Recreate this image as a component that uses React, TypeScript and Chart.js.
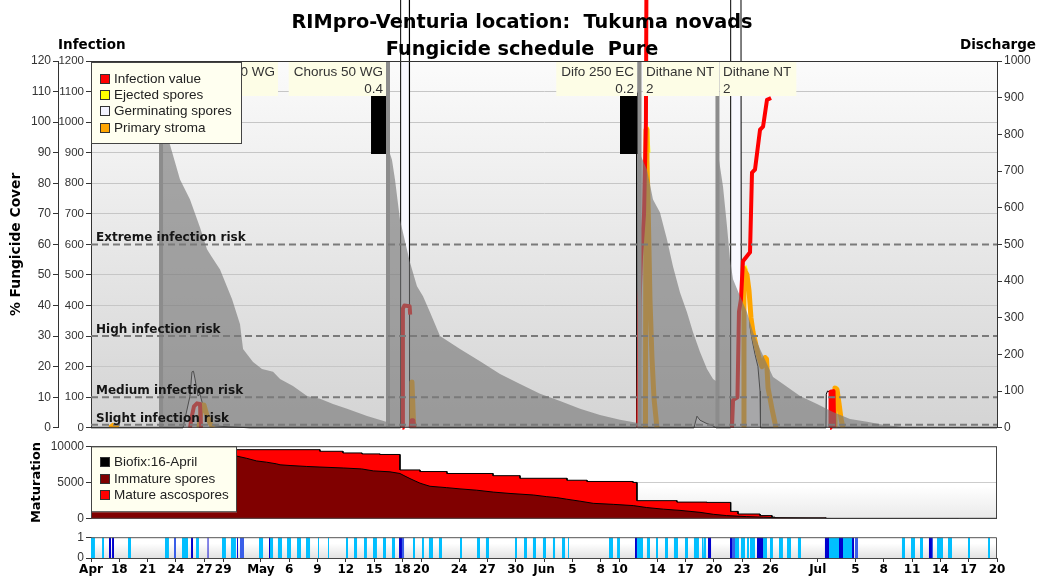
import { useEffect, useRef } from 'react';
import { Chart, registerables } from 'chart.js';

Chart.register(...registerables);

type Pt = [number, number | null];

// x values are days counted from 15 April
const X_MAX = 96;

const TICK_DAYS = [0, 3, 6, 9, 12, 14, 18, 21, 24, 27, 30, 33, 35, 39, 42, 45, 48, 51, 54, 56, 60, 63, 66, 69, 72, 77, 81, 84, 87, 90, 93, 96];
const TICK_LABELS = ['Apr', '18', '21', '24', '27', '29', 'May', '6', '9', '12', '15', '18', '20', '24', '27', '30', 'Jun', '5', '8', '10', '14', '17', '20', '23', '26', 'Jul', '5', '8', '11', '14', '17', '20'];

// infection risk thresholds (infection value axis)
const RISK_LEVELS = [600, 300, 100, 10];
const RISK_NAMES = ['Extreme infection risk', 'High infection risk', 'Medium infection risk', 'Slight infection risk'];

// fungicide applications
const SPRAY_DAYS = [7.42, 31.47, 58.12, 66.38];
const SPRAY_BLOCKS: [number, number][] = [[29.67, 31.26], [56.05, 58.17]];
const SPRAY_BLOCK_TOP = 109.5;
const SPRAY_BLOCK_BOTTOM = 89.6;

const LABEL_DAYS = [20.03, 31.47, 58.07, 58.28, 66.44];
const LABEL_PRODUCTS = ['Chorus 50 WG', 'Chorus 50 WG', 'Difo 250 EC', 'Dithane NT', 'Dithane NT'];
const LABEL_DOSES = ['', '0.4', '0.2', '2', '2'];
const LABEL_SIDES = ['left', 'left', 'left', 'right', 'right'];

// % fungicide cover
const COVER: Pt[] = [
  [0, 0], [7.41, 0], [7.42, 99], [8.37, 92.6], [9.43, 81.2], [10.49, 74.7], [11.55, 65.5], [12.29, 58.4], [12.82, 55.8],
  [13.67, 51.8], [14.94, 42.1], [15.79, 33.9], [16.11, 25.8], [17.17, 21.5], [18.12, 19.2], [19.29, 18.3], [20.03, 16.0],
  [21.4, 13.7], [22.89, 10.4], [24.27, 9.5], [25.64, 7.8], [27.13, 6.2], [29.25, 3.9], [31.26, 2.0], [31.46, 1.9],
  [31.47, 91.6], [31.89, 87.7], [32.21, 81.2], [32.74, 68.1], [33.8, 54.1], [34.54, 46.3], [35.18, 43.0], [35.92, 37.8],
  [36.98, 30.0], [39.1, 25.8], [41.22, 21.8], [43.34, 17.6], [45.46, 14.3], [47.58, 11.1], [49.7, 8.8], [51.82, 6.2],
  [53.93, 4.2], [56.05, 2.6], [58.11, 1.5],
  [58.12, 90.0], [58.91, 84.4], [59.55, 74.7], [60.29, 70.4], [61.03, 61.6], [61.67, 52.8], [62.41, 44.3], [63.15, 37.8],
  [63.79, 31.3], [64.53, 24.8], [65.27, 19.2], [65.91, 16.0], [66.37, 15.0],
  [66.38, 91.0], [66.97, 78.9], [67.39, 65.9], [67.71, 55.1], [68.03, 48.6], [68.77, 43.0], [69.51, 37.8], [70.15, 31.3],
  [70.89, 25.8], [71.63, 20.9], [72.27, 16.6], [73.33, 14.3], [75.13, 10.4], [76.93, 7.8], [78.62, 5.2], [80.42, 2.9],
  [82.23, 2.0], [83.92, 1.0], [86.78, 0], [96, 0],
];

// infection value (RIM)
const INFECTION: Pt[] = [
  [10.49, 0], [10.7, 40], [10.91, 70], [11.23, 80], [11.55, 78], [11.66, 0], [11.7, null],
  [33.0, 0], [33.05, 390], [33.2, 400], [33.76, 398], [33.82, 370], [33.84, null],
  [33.87, 0], [33.98, 25], [34.15, 25], [34.26, 0], [34.3, null],
  [58.0, 0], [58.12, 410], [58.28, 560], [58.6, 700], [58.8, 1000], [58.86, 1500], [58.9, null],
  [67.92, 0], [68.03, 90], [68.24, 95], [68.5, 100], [68.66, 380], [68.87, 420], [69.08, 545], [69.83, 574],
  [70.04, 835], [70.36, 845], [70.89, 975], [71.21, 985], [71.63, 1073], [72.06, 1079], [72.1, null],
  [78.31, 0], [78.36, 118], [78.68, 120], [78.74, 0],
];

// ejected spores
const EJECTED: Pt[] = [
  [58.97, 985], [59.12, 900], [59.2, null],
  [69.3, 530], [69.46, 515], [69.5, null],
  [78.89, 135], [79.1, 128],
];

// primary stroma
const STROMA: Pt[] = [
  [2.01, 0], [2.33, 8], [2.65, 5], [2.86, 0], [3.0, null],
  [11.44, 0], [11.76, 75], [11.97, 75], [12.29, 40], [12.61, 15], [12.93, 0], [13.0, null],
  [33.96, 0], [34.01, 150], [34.17, 20], [34.23, 0], [34.3, null],
  [58.75, 0], [58.81, 975], [58.91, 877], [59.02, 747], [59.23, 420], [59.44, 230], [59.66, 95], [59.97, 0], [60.0, null],
  [69.14, 0], [69.19, 520], [69.51, 500], [69.72, 450], [69.93, 360], [70.15, 313], [70.46, 270], [70.78, 230],
  [71.1, 200], [71.42, 230], [71.58, 225], [71.74, 130], [72.16, 62], [72.58, 0], [72.6, null],
  [78.73, 0], [78.83, 130], [79.05, 125], [79.26, 80], [79.47, 30], [79.68, 0],
];

// germinating spores
const GERMINATING: Pt[] = [
  [0, 0], [9.75, 0], [10.49, 104], [10.7, 183], [10.86, 185], [11.02, 160], [11.34, 104], [11.55, 110], [11.87, 72],
  [12.29, 39], [12.61, 7], [14.73, 3], [16.85, 0],
  [32.79, 0], [32.81, 1500], [33.73, 1500], [33.75, 0],
  [57.75, 0], [57.78, 1200], [57.85, 1200], [57.89, 0],
  [63.89, 0], [64.21, 38], [64.53, 25], [65.17, 15], [65.8, 8], [66.23, 0],
  [67.76, 0], [67.78, 1500], [68.87, 1500], [68.9, 455], [69.67, 455], [69.83, 330], [70.04, 290], [70.36, 240],
  [70.67, 200], [70.89, 120], [70.94, 0],
  [77.88, 0], [77.91, 110], [78.04, 120], [78.25, 118], [78.31, 0], [96, 0],
];

// ascospore maturation
const MATURATION_TOTAL: Pt[] = [
  [0, 1200], [2, 2000], [4, 3600], [6, 5200], [8, 6700], [10, 8000], [12, 8900], [14, 9400], [15.2, 9520],
  [24.26, 9520], [24.26, 9300], [26.7, 9300], [26.7, 9070], [28.72, 9070], [28.72, 8940], [30.62, 8940], [30.62, 8860],
  [32.74, 8860], [32.74, 6730], [34.86, 6730], [34.86, 6510], [37.72, 6510], [37.72, 6240], [42.6, 6240], [42.6, 5940],
  [45.46, 5940], [45.46, 5580], [50.44, 5580], [50.44, 5310], [52.56, 5310], [52.56, 5140], [57.43, 5140], [57.43, 5010],
  [57.85, 5010], [57.85, 2500], [62.09, 2500], [62.09, 2300], [65.27, 2300], [65.27, 2260], [67.78, 2260], [67.78, 1020],
  [68.56, 1020], [68.56, 660], [70.89, 660], [70.89, 440], [72.16, 440], [72.16, 230], [72.48, 230], [72.48, 140],
  [77.88, 140], [77.88, 40], [91.87, 40], [91.87, 0], [96, 0],
];
const MATURATION_IMMATURE: Pt[] = [
  [0, 1200], [2, 1800], [4, 3000], [6, 4400], [8, 5900], [10, 7200], [12, 8200], [14, 8700], [15.47, 8630], [16.5, 8330],
  [17.55, 7970], [18.6, 7800], [19.65, 7570], [20.03, 7440], [21.09, 7340], [22.86, 7210], [24.26, 7130], [26.73, 7000],
  [28.68, 6870], [29.91, 6600], [31.68, 6470], [32.74, 6240], [33.27, 5880], [33.8, 5540], [34.33, 5220], [34.86, 4910],
  [35.39, 4690], [35.92, 4480], [37.69, 4290], [39.1, 4120], [40.87, 3940], [42.63, 3680], [44.4, 3490], [46.87, 3280],
  [48.29, 3050], [49.35, 2920], [50.41, 2700], [51.81, 2430], [53.22, 2130], [55.34, 1990], [57.46, 1820], [58.88, 1550],
  [60.64, 1330], [62.41, 1160], [64.53, 890], [65.94, 620], [67.36, 440], [69.48, 300], [71.24, 220], [73.01, 130],
  [76, 60], [80, 30], [91.87, 10], [92, 0], [96, 0],
];

// leaf wetness periods (start, end), by intensity
const WET_LIGHT: [number, number][] = [
  [0.0, 0.42], [1.17, 1.38], [3.92, 4.24], [5.09, 5.19], [7.84, 8.26], [9.64, 10.28], [11.13, 11.44], [13.88, 14.3],
  [14.83, 15.36], [17.8, 18.23], [18.86, 19.29], [19.81, 20.24], [20.77, 21.19], [21.83, 22.25], [22.78, 23.21],
  [24.05, 24.16], [25.11, 25.22], [27.02, 27.23], [27.87, 28.19], [28.93, 29.24], [29.88, 30.3], [30.94, 31.26],
  [31.89, 32.21], [34.12, 34.33], [35.07, 35.28], [35.81, 36.24], [36.87, 37.19], [39.1, 39.31], [40.9, 41.22],
  [41.85, 42.17], [44.93, 45.14], [45.88, 46.2], [46.83, 47.15], [47.89, 48.21], [48.95, 49.17], [49.91, 50.23],
  [50.54, 50.65], [54.89, 55.31], [55.74, 56.05], [57.85, 58.49], [58.91, 59.23], [59.87, 60.08], [60.82, 61.14],
  [61.77, 62.2], [62.94, 63.26], [63.89, 64.42], [64.74, 64.85], [64.95, 65.17], [68.24, 68.66], [68.87, 69.3],
  [69.51, 69.72], [69.83, 70.36], [71.21, 71.63], [71.95, 72.26], [72.9, 73.32], [73.75, 74.17], [74.91, 75.23],
  [78.09, 79.26], [79.68, 80.64], [85.93, 86.25], [86.89, 87.31], [87.84, 88.16], [89.64, 90.28], [90.81, 91.23],
  [92.93, 93.14], [95.05, 95.26],
];
const WET_MEDIUM: [number, number][] = [
  [8.79, 9.01], [13.46, 13.56], [15.79, 16.21], [32.95, 33.17], [67.92, 68.24], [80.95, 81.27], [82.23, 82.33], [89.11, 89.22],
];
const WET_DARK: [number, number][] = [
  [1.7, 1.8], [1.91, 2.12], [2.23, 2.44], [10.6, 10.81], [12.35, 12.45], [15.47, 15.57], [18.86, 18.97], [32.64, 32.95],
  [57.64, 57.85], [65.38, 65.7], [67.71, 67.92], [70.57, 71.21], [77.77, 78.2], [79.26, 79.68], [80.64, 80.85], [88.79, 89.11],
];

const MAIN_LEGEND: [string, string][] = [
  ['Infection value', '#ff0000'],
  ['Ejected spores', '#ffff00'],
  ['Germinating spores', '#f4f4ff'],
  ['Primary stroma', '#ffa500'],
];
const MATURATION_LEGEND: [string, string][] = [
  ['Biofix:16-April', '#000000'],
  ['Immature spores', '#800000'],
  ['Mature ascospores', '#ff0000'],
];

const SANS = 'Liberation Sans';
const BOLD = 'DejaVu Sans';
const tickFont = { family: SANS, size: 12 };
const innerTickFont = { family: SANS, size: 11.5 };
const NONE = 'rgba(0,0,0,0)';
const plainNumber = (v: number | string) => String(v);

const toXY = (pts: Pt[]) => pts.map(([x, y]) => ({ x, y }));
const spansToSteps = (spans: [number, number][]) =>
  spans.flatMap(([s, e]) => [{ x: s, y: 0 }, { x: s, y: 1 }, { x: e, y: 1 }, { x: e, y: 0 }]);

function plotBackground(top: string, bottom: string, startAt = 0) {
  return {
    id: 'plotBackground',
    beforeDraw(chart: any) {
      const { ctx, chartArea: a } = chart;
      const g = ctx.createLinearGradient(0, a.top, 0, a.bottom);
      g.addColorStop(0, top);
      g.addColorStop(startAt, top);
      g.addColorStop(1, bottom);
      ctx.save();
      ctx.fillStyle = g;
      ctx.fillRect(a.left, a.top, a.right - a.left, a.bottom - a.top);
      ctx.restore();
    },
  };
}

function drawLegend(ctx: CanvasRenderingContext2D, x: number, y: number, w: number, h: number, items: [string, string][], rows: number[]) {
  ctx.save();
  ctx.fillStyle = '#fffff0';
  ctx.fillRect(x, y, w, h);
  ctx.strokeStyle = '#444';
  ctx.lineWidth = 1;
  ctx.strokeRect(x + 0.5, y + 0.5, w - 1, h - 1);
  ctx.font = `13.5px "${SANS}"`;
  ctx.textBaseline = 'middle';
  ctx.textAlign = 'left';
  items.forEach(([label, color], i) => {
    const cy = Math.round(y + rows[i]);
    ctx.fillStyle = color;
    ctx.fillRect(x + 9, cy - 5, 10, 10);
    ctx.strokeStyle = '#333';
    ctx.strokeRect(x + 9.5, cy - 4.5, 9, 9);
    ctx.fillStyle = '#222';
    ctx.fillText(label, x + 23, cy + 0.5);
  });
  ctx.restore();
}

const mainOverlay = {
  id: 'mainOverlay',
  afterDatasetsDraw(chart: any) {
    const { ctx, chartArea: a, scales } = chart;
    const xs = scales.x;
    const yI = scales.yI;
    ctx.save();

    // risk level captions
    ctx.font = `bold 12px "${BOLD}"`;
    ctx.fillStyle = '#151515';
    ctx.textAlign = 'left';
    ctx.textBaseline = 'alphabetic';
    RISK_LEVELS.forEach((lv, i) => ctx.fillText(RISK_NAMES[i], a.left + 5, yI.getPixelForValue(lv) - 3));

    // fungicide product boxes
    ctx.font = `13.5px "${SANS}"`;
    LABEL_DAYS.forEach((d, i) => {
      const px = xs.getPixelForValue(d);
      const w = Math.max(ctx.measureText(LABEL_PRODUCTS[i]).width, ctx.measureText(LABEL_DOSES[i]).width) + 8;
      const left = LABEL_SIDES[i] === 'left';
      const bx = left ? px - 2 - w : px + 2;
      const by = a.top + 1;
      ctx.fillStyle = '#fdfde6';
      ctx.fillRect(bx, by, w, 34);
      ctx.fillStyle = '#333';
      ctx.textAlign = left ? 'right' : 'left';
      ctx.textBaseline = 'middle';
      const tx = left ? bx + w - 3 : bx + 3;
      ctx.fillText(LABEL_PRODUCTS[i], tx, by + 10);
      ctx.fillText(LABEL_DOSES[i], tx, by + 27);
    });

    drawLegend(ctx, a.left, a.top + 1, 151, 82, MAIN_LEGEND, [17, 33, 49, 65.5]);

    // plot frame
    ctx.strokeStyle = '#333';
    ctx.lineWidth = 1;
    ctx.beginPath();
    ctx.moveTo(a.left, a.top + 0.5);
    ctx.lineTo(a.right, a.top + 0.5);
    ctx.moveTo(a.left, a.bottom - 0.5);
    ctx.lineTo(a.right, a.bottom - 0.5);
    ctx.stroke();
    ctx.restore();
  },
  afterDraw(chart: any) {
    const { ctx } = chart;
    ctx.save();
    ctx.fillStyle = '#000';
    ctx.textBaseline = 'alphabetic';
    ctx.font = `bold 19.3px "${BOLD}"`;
    ctx.textAlign = 'center';
    ctx.fillText('RIMpro-Venturia location:  Tukuma novads', 522, 28);
    ctx.fillText('Fungicide schedule  Pure', 522, 55);
    ctx.font = `bold 13.5px "${BOLD}"`;
    ctx.textAlign = 'left';
    ctx.fillText('Infection', 58, 49);
    ctx.textAlign = 'right';
    ctx.fillText('Discharge', 1036, 49);
    ctx.restore();
  },
};

const maturationOverlay = {
  id: 'maturationOverlay',
  afterDatasetsDraw(chart: any) {
    const { ctx, chartArea: a } = chart;
    drawLegend(ctx, a.left, a.top, 146, 66, MATURATION_LEGEND, [16, 33, 49]);
    ctx.save();
    ctx.strokeStyle = '#444';
    ctx.lineWidth = 1;
    ctx.strokeRect(a.left + 0.5, a.top + 0.5, a.right - a.left - 1, a.bottom - a.top - 1);
    ctx.restore();
  },
};

const wetnessOverlay = {
  id: 'wetnessOverlay',
  afterDatasetsDraw(chart: any) {
    const { ctx, chartArea: a } = chart;
    ctx.save();
    ctx.strokeStyle = '#555';
    ctx.lineWidth = 1;
    ctx.beginPath();
    ctx.moveTo(a.left, a.top + 0.5);
    ctx.lineTo(a.right - 0.5, a.top + 0.5);
    ctx.lineTo(a.right - 0.5, a.bottom);
    ctx.stroke();
    ctx.restore();
  },
};

const baseOptions = {
  responsive: false,
  animation: false as const,
  devicePixelRatio: 1,
  events: [] as any[],
  elements: { point: { radius: 0, hoverRadius: 0 }, line: { tension: 0, borderJoinStyle: 'round' as const } },
  plugins: { legend: { display: false }, tooltip: { enabled: false }, title: { display: false } },
};

function mainConfig(): any {
  const line = (data: Pt[], color: string, width: number, order: number, extra: any = {}) => ({
    data: toXY(data), borderColor: color, borderWidth: width, fill: false, order, yAxisID: 'yI', spanGaps: false, ...extra,
  });
  const datasets: any[] = [
    line(GERMINATING, '#000', 1, 10, { fill: 'origin', backgroundColor: '#f8f8ff', clip: false }),
    line(EJECTED, '#ffff00', 3, 9),
    line(STROMA, '#ffa500', 5, 8),
    line(INFECTION, '#ff0000', 4, 7, { clip: false }),
    {
      data: toXY(COVER), yAxisID: 'yC', fill: 'origin', backgroundColor: 'rgba(120,120,120,0.64)',
      borderColor: NONE, borderWidth: 0, order: 6,
    },
    ...SPRAY_BLOCKS.map(([s, e]) => ({
      data: [{ x: s, y: SPRAY_BLOCK_TOP }, { x: e, y: SPRAY_BLOCK_TOP }], yAxisID: 'yC',
      fill: { value: SPRAY_BLOCK_BOTTOM }, backgroundColor: '#000', borderColor: '#000', borderWidth: 1, order: 5,
    })),
    ...SPRAY_DAYS.map((d) => ({
      data: [{ x: d, y: 0 }, { x: d, y: 120 }], yAxisID: 'yC', borderColor: '#8c8c8c', borderWidth: 4, fill: false, order: 4,
    })),
    ...RISK_LEVELS.map((lv) => ({
      data: [{ x: 0, y: lv }, { x: X_MAX, y: lv }], yAxisID: 'yI', borderColor: '#7a7a7a', borderWidth: 2,
      borderDash: [7, 4], fill: false, order: 3,
    })),
  ];
  return {
    type: 'line',
    data: { datasets },
    plugins: [plotBackground('#fbfbfb', '#d4d4d4'), mainOverlay],
    options: {
      ...baseOptions,
      layout: { padding: { top: 61, bottom: 8, left: 0, right: 0 } },
      scales: {
        x: { type: 'linear', min: 0, max: X_MAX, display: false },
        yC: {
          type: 'linear', position: 'left', weight: 1, min: 0, max: 120,
          ticks: { stepSize: 10, font: tickFont, color: '#333', padding: 2, callback: plainNumber },
          grid: { drawOnChartArea: false, tickLength: 5, tickColor: '#333' },
          border: { color: '#333' },
          title: {
            display: true, text: '% Fungicide Cover', color: '#000',
            font: { family: BOLD, weight: 'bold', size: 13.8 }, padding: { top: 8.5, bottom: 0 },
          },
          afterFit: (s: any) => { s.width = 58; },
        },
        yI: {
          type: 'linear', position: 'left', weight: 0, min: 0, max: 1200,
          ticks: { stepSize: 100, font: innerTickFont, color: '#333', padding: 2, callback: plainNumber },
          grid: {
            color: (c: any) => (c.tick && (c.tick.value === 0 || c.tick.value === 1200 || RISK_LEVELS.includes(c.tick.value)) ? NONE : '#c6c6c6'),
            tickLength: 5, tickColor: '#333',
          },
          border: { color: '#333' },
          afterFit: (s: any) => { s.width = 33; },
        },
        yD: {
          type: 'linear', position: 'right', min: 0, max: 1000,
          ticks: { stepSize: 100, font: tickFont, color: '#333', padding: 2, callback: plainNumber },
          grid: { drawOnChartArea: false, tickLength: 5, tickColor: '#333' },
          border: { color: '#333' },
          afterFit: (s: any) => { s.width = 41; },
        },
      },
    },
  };
}

function maturationConfig(): any {
  return {
    type: 'line',
    data: {
      datasets: [
        { data: toXY(MATURATION_TOTAL), fill: 'origin', backgroundColor: '#ff0000', borderColor: '#000', borderWidth: 1, order: 2 },
        { data: toXY(MATURATION_IMMATURE), fill: 'origin', backgroundColor: '#800000', borderColor: '#000', borderWidth: 1, order: 1 },
      ],
    },
    plugins: [plotBackground('#ffffff', '#e9e9e9', 0.55), maturationOverlay],
    options: {
      ...baseOptions,
      layout: { padding: { top: 9, bottom: 7, left: 0, right: 41 } },
      scales: {
        x: { type: 'linear', min: 0, max: X_MAX, display: false },
        y: {
          type: 'linear', position: 'left', min: 0, max: 10000,
          ticks: { stepSize: 5000, font: tickFont, color: '#333', padding: 2, callback: plainNumber },
          grid: { color: (c: any) => (c.tick && c.tick.value === 5000 ? '#cccccc' : NONE), tickLength: 5, tickColor: '#333' },
          border: { color: '#444' },
          title: {
            display: true, text: 'Maturation', color: '#000',
            font: { family: BOLD, weight: 'bold', size: 13 }, padding: { top: 29, bottom: 0 },
          },
          afterFit: (s: any) => { s.width = 91; },
        },
      },
    },
  };
}

function wetnessConfig(): any {
  const band = (spans: [number, number][], color: string, order: number) => ({
    data: spansToSteps(spans), fill: 'origin', backgroundColor: color, borderColor: NONE, borderWidth: 0, order,
  });
  return {
    type: 'line',
    data: {
      datasets: [
        band(WET_LIGHT, '#00bfff', 3),
        band(WET_MEDIUM, '#3a5ee8', 2),
        band(WET_DARK, '#0000cd', 1),
      ],
    },
    plugins: [plotBackground('#ffffff', '#e2e2e2', 0.3), wetnessOverlay],
    options: {
      ...baseOptions,
      layout: { padding: { top: 9, bottom: 0, left: 0, right: 41 } },
      scales: {
        x: {
          type: 'linear', position: 'bottom', min: 0, max: X_MAX,
          afterBuildTicks: (s: any) => { s.ticks = TICK_DAYS.map((v) => ({ value: v })); },
          ticks: {
            autoSkip: false, maxRotation: 0, minRotation: 0, padding: 1, color: '#000',
            font: { family: BOLD, weight: 'bold', size: 12 },
            callback: (v: number) => { const i = TICK_DAYS.indexOf(v); return i >= 0 ? TICK_LABELS[i] : ''; },
          },
          grid: { drawOnChartArea: false, tickLength: 4, tickColor: '#333' },
          border: { color: '#444' },
          afterFit: (s: any) => { s.height = 19; },
        },
        y: {
          type: 'linear', position: 'left', min: 0, max: 1,
          ticks: { stepSize: 1, font: tickFont, color: '#333', padding: 2, callback: plainNumber },
          grid: { drawOnChartArea: false, tickLength: 5, tickColor: '#333' },
          border: { color: '#444' },
          afterFit: (s: any) => { s.width = 91; },
        },
      },
    },
  };
}

export default function App() {
  const mainRef = useRef<HTMLCanvasElement>(null);
  const matRef = useRef<HTMLCanvasElement>(null);
  const wetRef = useRef<HTMLCanvasElement>(null);

  useEffect(() => {
    const charts = [
      new Chart(mainRef.current as HTMLCanvasElement, mainConfig()),
      new Chart(matRef.current as HTMLCanvasElement, maturationConfig()),
      new Chart(wetRef.current as HTMLCanvasElement, wetnessConfig()),
    ];
    return () => charts.forEach((c) => c.destroy());
  }, []);

  return (
    <div style={{ position: 'absolute', left: 0, top: 0, width: 1038, height: 577, background: '#fff', overflow: 'hidden' }}>
      <canvas ref={mainRef} width={1038} height={437} style={{ position: 'absolute', left: 0, top: 0 }} />
      <canvas ref={matRef} width={1038} height={91} style={{ position: 'absolute', left: 0, top: 437 }} />
      <canvas ref={wetRef} width={1038} height={49} style={{ position: 'absolute', left: 0, top: 528 }} />
    </div>
  );
}
